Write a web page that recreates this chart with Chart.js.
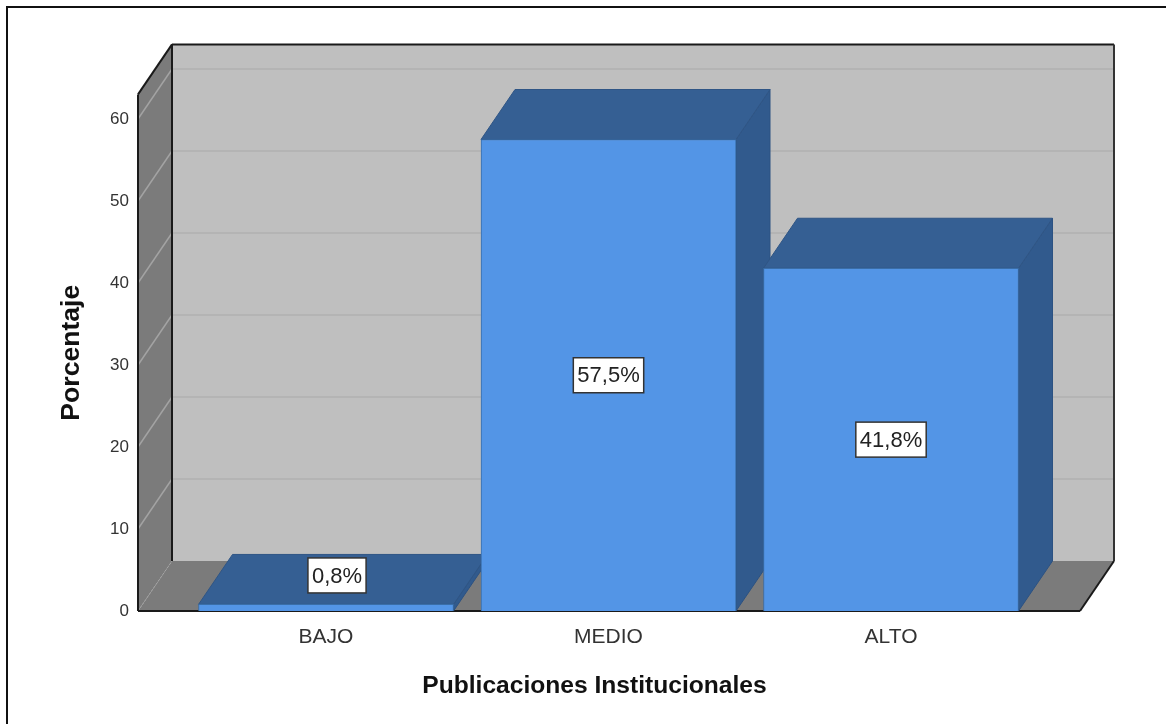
<!DOCTYPE html>
<html>
<head>
<meta charset="utf-8">
<title>Publicaciones Institucionales</title>
<script src="https://cdn.jsdelivr.net/npm/chart.js@4/dist/chart.umd.min.js"></script>
<style>
  html, body { margin: 0; padding: 0; background: #fff; }
  #frame { position: absolute; left: 6px; top: 6px; right: 0; bottom: 0; border-left: 2px solid #111; border-top: 2px solid #111; }
  #chart { position: absolute; left: 0; top: 0; display: block; }
</style>
</head>
<body>
<div id="frame"></div>
<canvas id="chart" width="1166" height="724"></canvas>
<script>
const categories = ['BAJO', 'MEDIO', 'ALTO'];
const positions = [0, 1, 2];
const percentages = [0.8, 57.5, 41.8];
const yTicks = [0, 10, 20, 30, 40, 50, 60];
const xTitle = 'Publicaciones Institucionales';
const yTitle = 'Porcentaje';

// depth of the fake 3D box, in pixels
const DX = 34;
const DY = -50;
const FONT = '"Liberation Sans", Arial, sans-serif';

function poly(ctx, pts, fill, stroke) {
    ctx.beginPath();
    pts.forEach((p, i) => i ? ctx.lineTo(p[0], p[1]) : ctx.moveTo(p[0], p[1]));
    ctx.closePath();
    if (fill) { ctx.fillStyle = fill; ctx.fill(); }
    if (stroke) { ctx.strokeStyle = stroke; ctx.lineWidth = 1; ctx.stroke(); }
}

function line(ctx, x1, y1, x2, y2, color, width) {
    ctx.beginPath();
    ctx.moveTo(x1, y1);
    ctx.lineTo(x2, y2);
    ctx.strokeStyle = color;
    ctx.lineWidth = width;
    ctx.stroke();
}

const box3d = {
    id: 'box3d',
    beforeDatasetsDraw(chart) {
        const ctx = chart.ctx;
        const { left, right, top, bottom } = chart.chartArea;
        const y = chart.scales.y;
        ctx.save();

        // walls and floor
        poly(ctx, [[left + DX, top + DY], [right + DX, top + DY], [right + DX, bottom + DY], [left + DX, bottom + DY]], '#bfbfbf');
        poly(ctx, [[left, top], [left + DX, top + DY], [left + DX, bottom + DY], [left, bottom]], '#7b7b7b');
        poly(ctx, [[left, bottom], [left + DX, bottom + DY], [right + DX, bottom + DY], [right, bottom]], '#7b7b7b');

        // grid lines run across the left wall and the back wall
        yTicks.forEach(v => {
            const py = y.getPixelForValue(v);
            if (v > 0) {
                line(ctx, left, py, left + DX, py + DY, '#a3a3a3', 1.5);
                line(ctx, left + DX, py + DY, right + DX, py + DY, '#b1b1b1', 1.5);
            }
        });
        ctx.setLineDash([2, 2]);
        line(ctx, left, bottom, left + DX, bottom + DY, '#a3a3a3', 1);
        ctx.setLineDash([]);

        // box outline
        line(ctx, left + DX, top + DY, right + DX, top + DY, '#1a1a1a', 2);
        line(ctx, left, top, left + DX, top + DY, '#1a1a1a', 2);
        line(ctx, left, top, left, bottom, '#1a1a1a', 2);
        line(ctx, left + DX, top + DY, left + DX, bottom + DY, '#1a1a1a', 2);
        line(ctx, right + DX, top + DY, right + DX, bottom + DY, '#333', 2);
        line(ctx, right, bottom, right + DX, bottom + DY, '#1a1a1a', 2);
        line(ctx, left, bottom, right, bottom, '#1a1a1a', 2);

        // side and top of every bar, left to right so the later bars cover the earlier ones
        chart.getDatasetMeta(0).data.forEach(el => {
            const x0 = el.x - el.width / 2;
            const x1 = el.x + el.width / 2;
            poly(ctx, [[x1, el.y], [x1 + DX, el.y + DY], [x1 + DX, el.base + DY], [x1, el.base]], '#315a8d', '#2c5282');
            poly(ctx, [[x0, el.y], [x0 + DX, el.y + DY], [x1 + DX, el.y + DY], [x1, el.y]], '#355f93', '#2f5585');
        });
        ctx.restore();
    },
    afterDatasetsDraw(chart) {
        const ctx = chart.ctx;
        ctx.save();
        ctx.font = '22px ' + FONT;
        ctx.textAlign = 'center';
        ctx.textBaseline = 'middle';
        chart.getDatasetMeta(0).data.forEach((el, i) => {
            const text = percentages[i].toFixed(1).replace('.', ',') + '%';
            const w = ctx.measureText(text).width + 8;
            const h = 35;
            // too thin to hold its label: the label sits on the top face
            const small = el.base - el.y < h;
            const cx = small ? el.x + 11 : el.x;
            const cy = small ? el.y - 29 : (el.y + el.base) / 2;
            ctx.fillStyle = '#fff';
            ctx.fillRect(cx - w / 2, cy - h / 2, w, h);
            ctx.strokeStyle = '#333';
            ctx.lineWidth = 1.5;
            ctx.strokeRect(cx - w / 2, cy - h / 2, w, h);
            ctx.fillStyle = '#222';
            ctx.fillText(text, cx, cy + 1);
        });

        // x title sits left of the middle of the plot, the scale title cannot do that
        ctx.font = 'bold 24.6px ' + FONT;
        ctx.fillStyle = '#111';
        ctx.fillText(xTitle, 594.5, 686);
        ctx.restore();
    }
};

new Chart(document.getElementById('chart').getContext('2d'), {
    type: 'bar',
    data: {
        datasets: [{
            data: positions.map((p, i) => ({ x: p, y: percentages[i] })),
            backgroundColor: '#5395e6',
            borderColor: '#3a6ea8',
            borderWidth: 1,
            barThickness: 255
        }]
    },
    plugins: [box3d],
    options: {
        responsive: false,
        animation: false,
        events: [],
        layout: { padding: { left: 52, right: 86, top: 94.4, bottom: 0 } },
        plugins: {
            legend: { display: false },
            tooltip: { enabled: false }
        },
        scales: {
            x: {
                type: 'linear',
                offset: false,
                min: -0.6655,
                max: 2.669,
                grid: { display: false, drawTicks: false },
                border: { display: false },
                afterBuildTicks: axis => { axis.ticks = positions.map(value => ({ value })); },
                afterFit: axis => { axis.height = 113; },
                ticks: {
                    callback: v => categories[v],
                    color: '#333',
                    padding: 14,
                    maxRotation: 0,
                    autoSkip: false,
                    font: { family: FONT, size: 21 }
                }
            },
            y: {
                min: 0,
                max: 63,
                grid: { display: false, drawTicks: false },
                border: { display: false },
                afterBuildTicks: axis => { axis.ticks = yTicks.map(value => ({ value })); },
                afterFit: axis => { axis.width = 86; },
                ticks: {
                    callback: v => v,
                    color: '#333',
                    padding: 9,
                    font: { family: FONT, size: 17 }
                },
                title: {
                    display: true,
                    text: yTitle,
                    color: '#111',
                    font: { family: FONT, size: 26.6, weight: 'bold' }
                }
            }
        }
    }
});
</script>
</body>
</html>
